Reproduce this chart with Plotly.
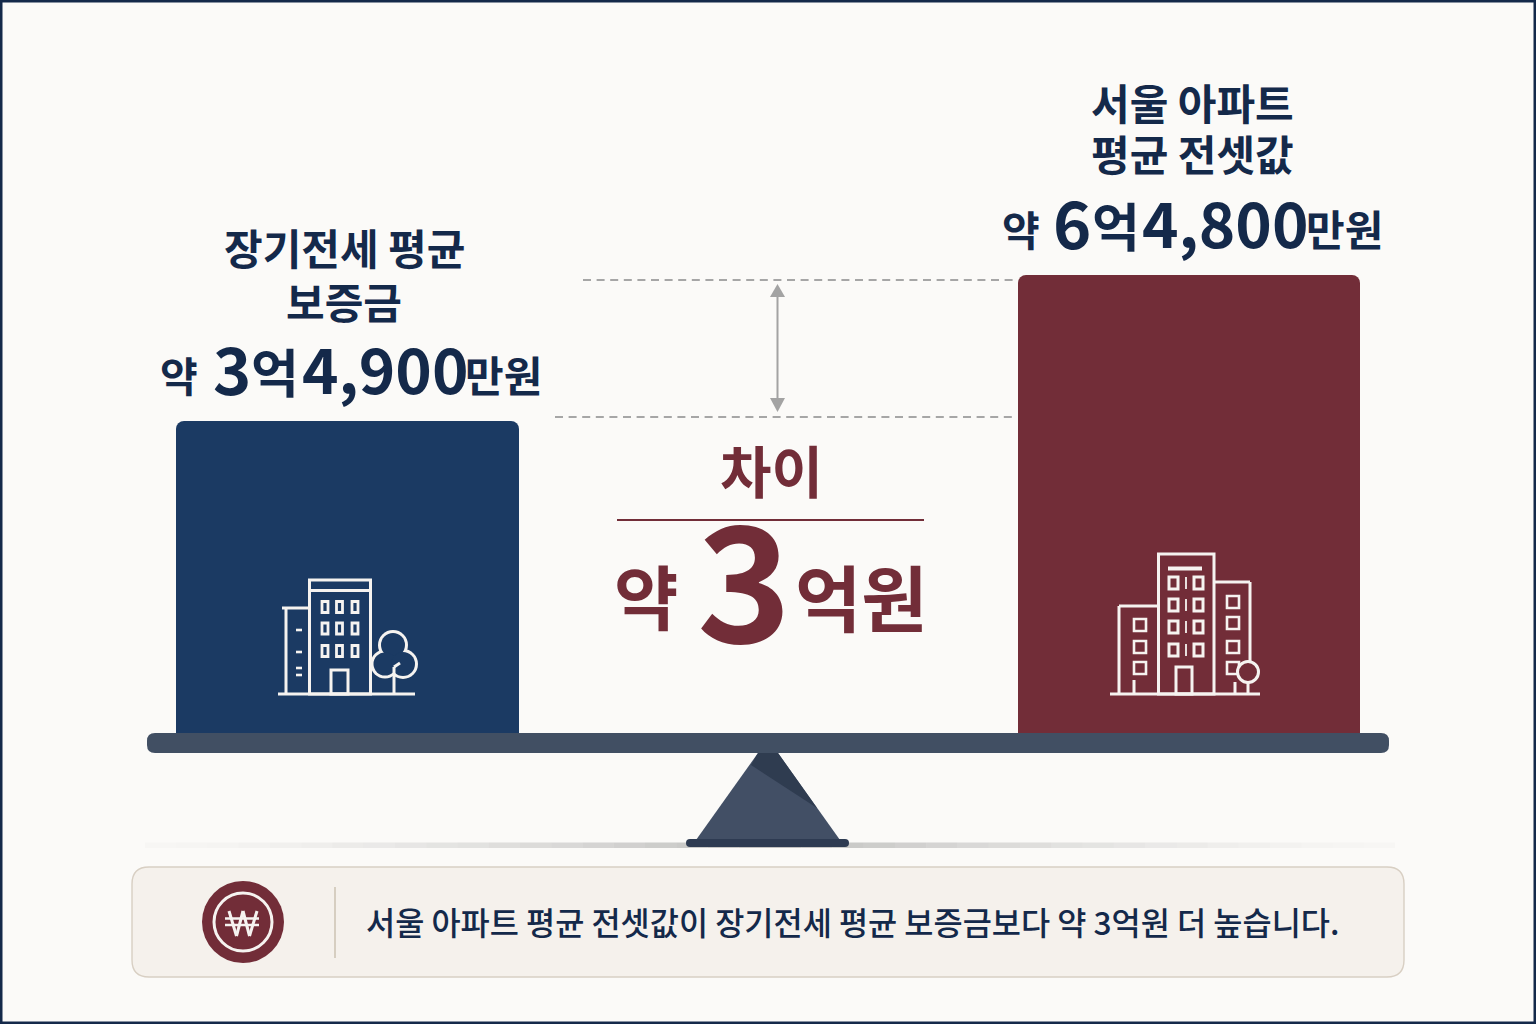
import plotly.graph_objects as go

# ---------- data ----------
categories = ["장기전세 평균 보증금", "서울 아파트 평균 전셋값"]
values_eok = [3.49, 6.48]           # 억원
difference_eok = 3
bar_colors = ["#1b3a63", "#722d38"]

NAVY = "#14294a"
MAROON = "#722d38"
BEAM = "#414f63"
KR = "Noto Sans CJK KR"
WHITE = "#f6f3f0"

# ---------- value axis calibration (truncated scale as in the picture) ----------
PX_PER_EOK = 48.83
Y_AT_LOW = 421
BASELINE_PX = 747   # hidden behind the beam
val_at = lambda px: values_eok[0] + (Y_AT_LOW - px) / PX_PER_EOK
baseline = val_at(BASELINE_PX)

fig = go.Figure()
fig.add_trace(go.Bar(
    x=[347.5, 1189], y=[v - baseline for v in values_eok], base=[baseline, baseline],
    width=[343, 342], marker=dict(color=bar_colors, line=dict(width=0)),
    yaxis="y2", text=None, hoverinfo="skip", showlegend=False, name="보증금/전셋값",
    customdata=categories,
))

shapes, annos = [], []


def line(x0, y0, x1, y1, color=WHITE, w=3, dash=None):
    shapes.append(dict(type="line", x0=x0, y0=y0, x1=x1, y1=y1, xref="x", yref="y",
                       line=dict(color=color, width=w, dash=dash)))


def rect(x0, y0, x1, y1, color=WHITE, w=3, fill="rgba(0,0,0,0)"):
    shapes.append(dict(type="rect", x0=x0, y0=y0, x1=x1, y1=y1, xref="x", yref="y",
                       line=dict(color=color, width=w), fillcolor=fill))


def circle(cx, cy, r, fill, color=None, w=0):
    shapes.append(dict(type="circle", x0=cx - r, y0=cy - r, x1=cx + r, y1=cy + r, xref="x", yref="y",
                       fillcolor=fill, line=dict(color=color or fill, width=w)))


def poly(pts, fill):
    p = "M " + " L ".join(f"{x},{y}" for x, y in pts) + " Z"
    shapes.append(dict(type="path", path=p, xref="x", yref="y", fillcolor=fill, line=dict(width=0)))


def rrect(x0, y0, x1, y1, r, fill, color=None, w=0):
    p = (f"M {x0+r},{y0} L {x1-r},{y0} Q {x1},{y0} {x1},{y0+r} L {x1},{y1-r} Q {x1},{y1} {x1-r},{y1} "
         f"L {x0+r},{y1} Q {x0},{y1} {x0},{y1-r} L {x0},{y0+r} Q {x0},{y0} {x0+r},{y0} Z")
    shapes.append(dict(type="path", path=p, xref="x", yref="y", fillcolor=fill,
                       line=dict(color=color or fill, width=w)))


def txt(x, y, s, size, color=NAVY, anchor="center", weight=700):
    annos.append(dict(x=x, y=y, xref="x", yref="y", text=s, showarrow=False, xanchor=anchor, yanchor="middle",
                      font=dict(family=KR, size=size, color=color, weight=weight), borderpad=0, borderwidth=0))


# ---------- frame ----------
rect(1, 1, 1535, 1023, color=NAVY, w=3)

# ---------- dashed guides + double arrow ----------
line(583, 280, 1015, 280, "#a6a6a6", 2, "8px,5.6px")
line(555, 417, 1015, 417, "#a6a6a6", 2, "8px,5.6px")
line(777.5, 292, 777.5, 402, "#a3a3a3", 2)
poly([(777.5, 284), (770, 297), (785, 297)], "#a3a3a3")
poly([(777.5, 412), (770, 398), (785, 398)], "#a3a3a3")

# ---------- ground shadow ----------
SEG = 40
for i in range(SEG):
    x0 = 145 + i * (1395 - 145) / SEG
    x1 = x0 + (1395 - 145) / SEG
    t = 1 - abs((x0 + x1) / 2 - 770) / 625
    a = round(0.03 + 0.42 * t ** 1.5, 3)
    shapes.append(dict(type="rect", x0=x0, x1=x1, y0=842.5, y1=848, xref="x", yref="y",
                       fillcolor=f"rgba(120,120,120,{a})", line=dict(width=0)))

# ---------- seesaw ----------
rrect(147, 733, 1389, 753, 8, BEAM)
poly([(758, 753), (778, 753), (840, 840), (696, 840)], "#424f65")
poly([(758, 753), (778, 753), (817, 808), (751, 765)], "#2f3c50")
rrect(686, 839, 849, 847, 4, "#2e3b52")

# ---------- left building icon ----------
line(278, 694, 415, 694)
rect(309.5, 580, 370.5, 694)
line(309.5, 590.5, 370.5, 590.5)
line(286, 608, 286, 694)
line(282, 608, 309.5, 608)
for dy in [630, 652, 668, 675]:
    line(296, dy, 302, dy, w=2.6)
for cy in [607, 628.5, 651]:
    for cx in [325, 339.5, 355]:
        rect(cx - 3, cy - 5.5, cx + 3, cy + 5.5, w=2.8)
rect(331, 670, 348, 694)
CROWN = [(393, 645, 13.5), (385, 664, 13), (403, 664, 13.5)]
for cx, cy, r in CROWN:
    circle(cx, cy, r + 1.5, WHITE)
for cx, cy, r in CROWN:
    circle(cx, cy, r - 1.5, bar_colors[0])
line(394, 667, 394, 694)
line(394, 667, 400, 663)

# ---------- right building icon ----------
line(1110, 694, 1260, 694)
rect(1158.5, 554, 1214, 694)
line(1119, 606, 1158.5, 606)
line(1119, 606, 1119, 694)
line(1214, 582, 1250, 582)
line(1250, 582, 1250, 662)
line(1168, 568.5, 1202, 568.5, w=4)
for cy in [583, 605, 627, 650]:
    rect(1169, cy - 6, 1178, cy + 6)
    rect(1194, cy - 6, 1203, cy + 6)
    line(1186, cy - 6, 1186, cy + 6, w=1.8)
rect(1176, 667, 1192, 694)
for cy in [625, 647, 668]:
    rect(1134, cy - 6, 1146, cy + 6, w=2.6)
line(1134, 680, 1134, 694)
for cy in [602, 623, 647, 668]:
    rect(1227, cy - 6, 1239, cy + 6, w=2.6)
line(1235, 682, 1235, 694)
circle(1248, 672, 10.5, bar_colors[1], WHITE, 3)
line(1248, 683, 1248, 694)

# ---------- divider in the middle ----------
line(617, 520, 924, 520, MAROON, 2)

# ---------- bottom card ----------
rrect(132, 867, 1404, 977, 17, "#f5f1ec", "#d8cfc3", 1.4)
line(335, 887, 335, 958, "#cfc6b6", 1.6)
circle(243, 922, 41, MAROON)
circle(243, 922, 29, "rgba(0,0,0,0)", WHITE, 3)
for a, b in [((229, 911), (236.5, 936)), ((236.5, 936), (243, 911)), ((243, 911), (249.5, 936)), ((249.5, 936), (257, 911))]:
    line(a[0], a[1], b[0], b[1], WHITE, 3)
line(225, 918.5, 259, 918.5, WHITE, 2.6)
line(225, 925, 259, 925, WHITE, 2.6)

# ---------- texts ----------
txt(344, 246, "장기전세 평균", 42)
txt(344, 300, "보증금", 42)
txt(179, 374, "약", 41)
txt(213, 367, "3", 65, anchor="left")
txt(251, 370, "억", 52, anchor="left")
txt(302, 367, "4,900", 62, anchor="left")
txt(465, 373, "만원", 42, anchor="left")

txt(1192, 101, "서울 아파트", 42)
txt(1192, 152, "평균 전셋값", 42)
txt(1021, 228, "약", 41)
txt(1053, 221, "6", 65, anchor="left")
txt(1092, 224, "억", 52, anchor="left")
txt(1142, 221, "4,800", 62, anchor="left")
txt(1306, 227, "만원", 42, anchor="left")

txt(771, 468, "차이", 56, MAROON)
txt(646, 594, "약", 70, MAROON)
txt(744, 573, str(difference_eok), 160, MAROON)
txt(861, 594, "억원", 72, MAROON)

txt(852, 921, "서울 아파트 평균 전셋값이 장기전세 평균 보증금보다 약 3억원 더 높습니다.", 31.7, NAVY, weight=500)

fig.update_layout(
    width=1536, height=1024, margin=dict(l=0, r=0, t=0, b=0),
    paper_bgcolor="#fbfaf8", plot_bgcolor="rgba(0,0,0,0)",
    xaxis=dict(range=[0, 1536], visible=False, fixedrange=True),
    yaxis=dict(range=[1024, 0], visible=False, fixedrange=True),
    yaxis2=dict(range=[val_at(1024), val_at(0)], overlaying="y", visible=False, fixedrange=True),
    barcornerradius=8, barmode="overlay",
    shapes=shapes, annotations=annos, showlegend=False,
)
fig.write_html("out.html", config={"displayModeBar": False},
               post_script="document.body.style.margin='0';document.body.style.background='#fbfaf8';")
